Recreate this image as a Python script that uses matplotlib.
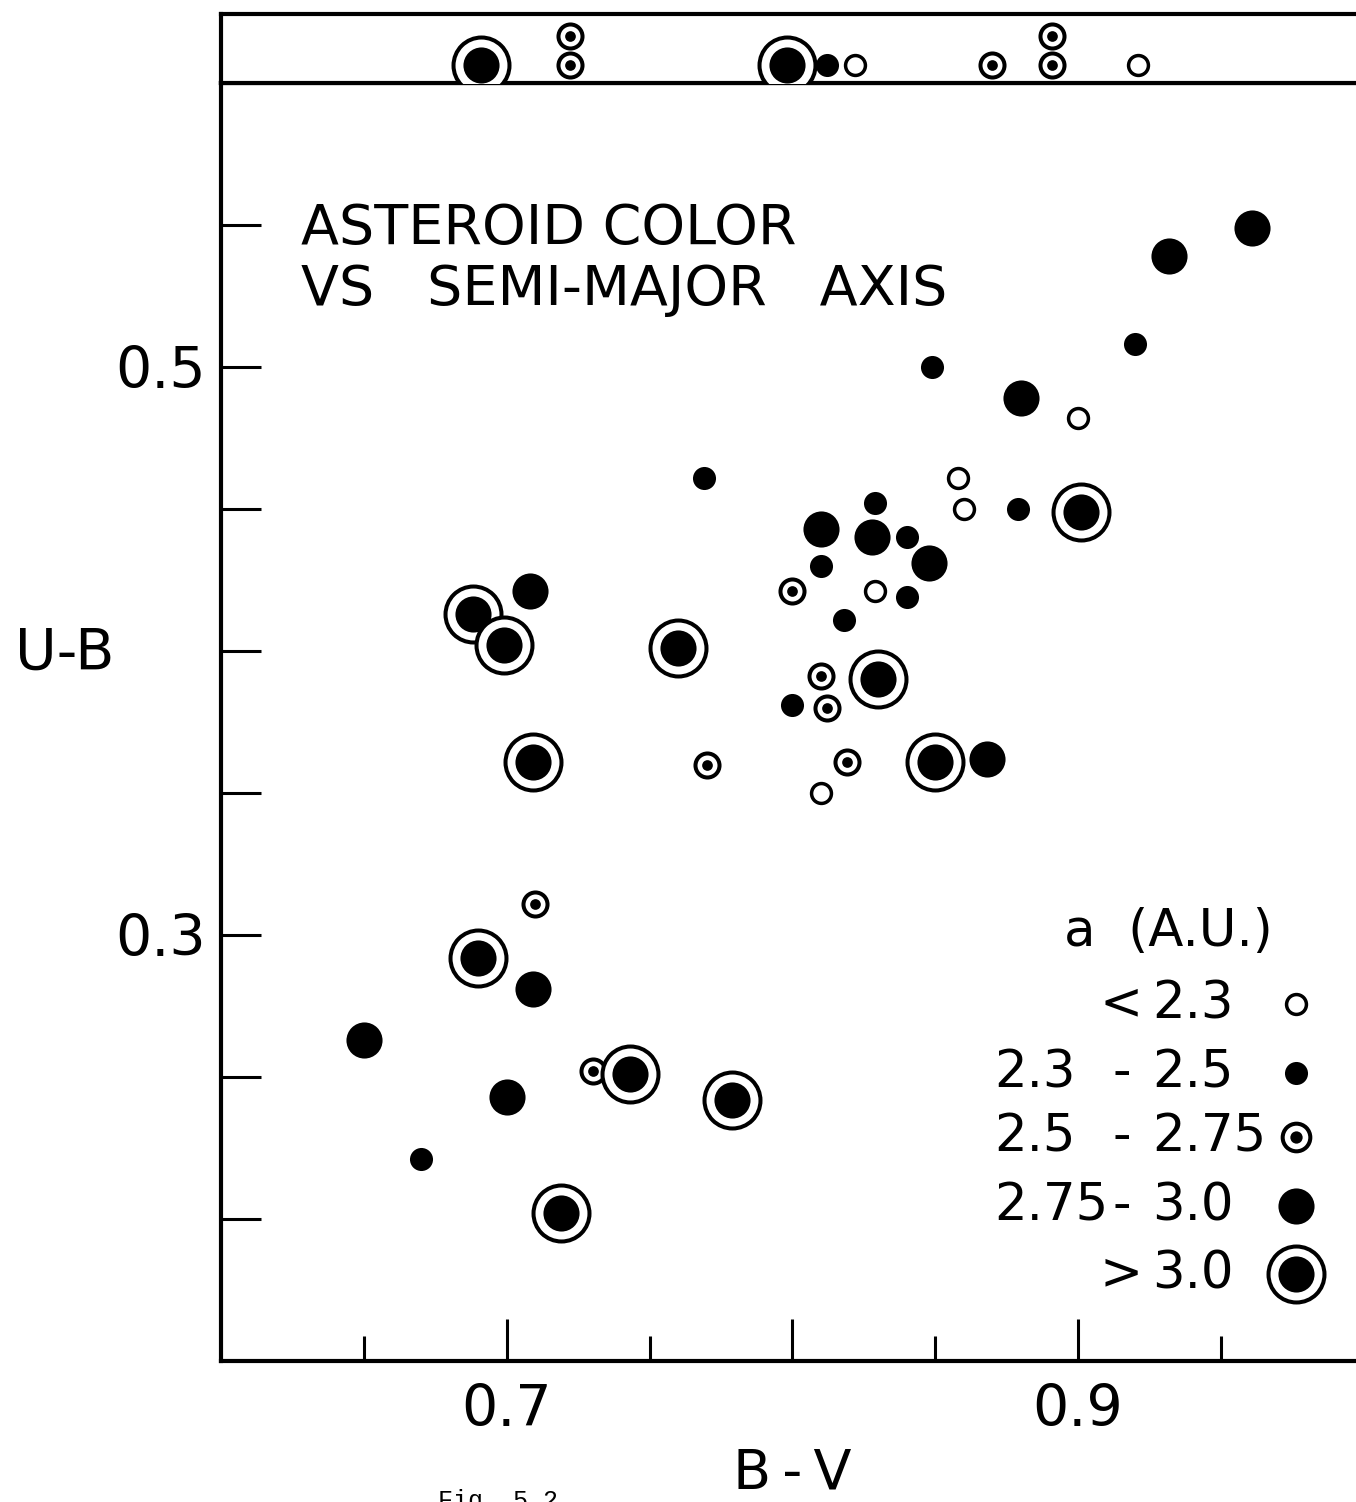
import numpy as np
import matplotlib.pyplot as plt

plt.rcParams['font.family'] = 'DejaVu Sans'

# B-V / U-B colours, grouped by semi-major axis a (A.U.)
bv_lt23 = [0.900, 0.858, 0.860, 0.829, 0.810]
ub_lt23 = [0.482, 0.461, 0.450, 0.421, 0.350]

bv_23_25 = [0.849, 0.920, 0.769, 0.829, 0.840, 0.879, 0.810, 0.840, 0.818, 0.800, 0.670]
ub_23_25 = [0.500, 0.508, 0.461, 0.452, 0.440, 0.450, 0.430, 0.419, 0.411, 0.381, 0.221]

bv_25_275 = [0.800, 0.810, 0.812, 0.819, 0.770, 0.710, 0.730]
ub_25_275 = [0.421, 0.391, 0.380, 0.361, 0.360, 0.311, 0.252]

bv_275_30 = [0.961, 0.932, 0.880, 0.810, 0.828, 0.848, 0.708, 0.868, 0.709, 0.650, 0.700]
ub_275_30 = [0.549, 0.539, 0.489, 0.443, 0.440, 0.431, 0.421, 0.362, 0.281, 0.263, 0.243]

bv_gt30 = [0.901, 0.688, 0.699, 0.760, 0.830, 0.709, 0.850, 0.690, 0.743, 0.779, 0.719]
ub_gt30 = [0.449, 0.413, 0.402, 0.401, 0.390, 0.361, 0.361, 0.292, 0.251, 0.242, 0.202]

# objects with U-B off the top of the scale (stack row 0 / 1)
top_bv_lt23 = [0.822, 0.921]
top_bv_23_25 = [0.812]
top_bv_25_275 = [0.722, 0.722, 0.870, 0.891, 0.891]
top_row_25_275 = [0, 1, 0, 0, 1]
top_bv_gt30 = [0.691, 0.798]

x_major = [0.70, 0.80, 0.90]
x_major_labels = ['0.7', '', '0.9']
x_minor = [0.65, 0.75, 0.85, 0.95]
y_ticks = [0.20, 0.25, 0.30, 0.35, 0.40, 0.45, 0.50, 0.55]
y_ticklabels = ['', '', '0.3', '', '', '', '0.5', '']

leg_lo = ['', '2.3', '2.5', '2.75', '']
leg_sep = ['<', '-', '-', '-', '>']
leg_hi = ['2.3', '2.5', '2.75', '3.0', '3.0']


def open_pts(ax, x, y, **kw):
    ax.plot(x, y, 'o', ms=14.3, mfc='white', mec='k', mew=2.5, ls='none', zorder=3, **kw)

def small_pts(ax, x, y, **kw):
    ax.plot(x, y, 'o', ms=16.6, mfc='k', mec='k', mew=0, ls='none', zorder=3, **kw)

def dot_pts(ax, x, y, big=False, **kw):
    s = 1.15 if big else 1.0
    ax.plot(x, y, 'o', ms=17.3 * s, mfc='white', mec='k', mew=2.9, ls='none', zorder=3, **kw)
    ax.plot(x, y, 'o', ms=7.7 * s, mfc='k', mec='k', mew=0, ls='none', zorder=3, **kw)

def big_pts(ax, x, y, **kw):
    ax.plot(x, y, 'o', ms=26, mfc='k', mec='k', mew=0, ls='none', zorder=4, **kw)

def ring_pts(ax, x, y, **kw):
    # ring + dot drawn point by point so later rings cover earlier ones
    for i, (xi, yi) in enumerate(zip(x, y)):
        ax.plot([xi], [yi], 'o', ms=40.3, mfc='white', mec='k', mew=2.9, zorder=5 + 2 * i, **kw)
        ax.plot([xi], [yi], 'o', ms=26, mfc='k', mec='k', mew=0, zorder=6 + 2 * i, **kw)


fig = plt.figure(figsize=(13.56, 15.02), dpi=100)
ax = fig.add_axes([0.1633, 0.0939, 0.8422, 0.8509])
top = fig.add_axes([0.1633, 0.9448, 0.8422, 0.0459], sharex=ax)

for a in (ax, top):
    for s in a.spines.values():
        s.set_linewidth(3)

open_pts(ax, bv_lt23, ub_lt23)
small_pts(ax, bv_23_25, ub_23_25)
dot_pts(ax, bv_25_275, ub_25_275)
big_pts(ax, bv_275_30, ub_275_30)
ring_pts(ax, bv_gt30, ub_gt30)

open_pts(top, top_bv_lt23, [0] * len(top_bv_lt23))
small_pts(top, top_bv_23_25, [0] * len(top_bv_23_25))
dot_pts(top, top_bv_25_275, top_row_25_275)
ring_pts(top, top_bv_gt30, [0] * len(top_bv_gt30))
top.set_ylim(-0.6, 1.73)
top.tick_params(which='both', left=False, bottom=False, labelleft=False, labelbottom=False)
top.spines['right'].set_visible(False)

ax.set_xlim(0.6, 1.0)
ax.set_ylim(0.15, 0.6)
ax.set_xticks(x_major)
ax.set_xticklabels(x_major_labels)
ax.set_xticks(x_minor, minor=True)
ax.set_yticks(y_ticks)
ax.set_yticklabels(y_ticklabels)
ax.tick_params(axis='y', direction='in', length=29, width=2.2, pad=11, labelsize=41)
ax.tick_params(axis='x', which='major', direction='in', length=30, width=2.2, pad=16, labelsize=41)
ax.tick_params(axis='x', which='minor', direction='in', length=18, width=2.2)

ax.set_xlabel('B\u2009-\u2009V', fontsize=40, va='center')
ax.xaxis.set_label_coords(0.5, -0.088)
ax.set_ylabel('U-B', fontsize=41, rotation=0, ha='center', va='center')
ax.yaxis.set_label_coords(-0.137, 0.553)

ax.text(0.070, 0.862, 'ASTEROID COLOR\nVS   SEMI-MAJOR   AXIS', transform=ax.transAxes,
        fontsize=40, ha='left', va='center', linespacing=1.18)

# key for the five symbol classes
ax.text(0.829, 0.336, 'a  (A.U.)', transform=ax.transAxes, fontsize=37,
        ha='center', va='center')
rows_y = [0.279, 0.225, 0.175, 0.121, 0.068]
for lo, sep, hi, yy in zip(leg_lo, leg_sep, leg_hi, rows_y):
    ax.text(0.677, yy, lo, transform=ax.transAxes, fontsize=37, ha='left', va='center')
    ax.text(0.788, yy, sep, transform=ax.transAxes, fontsize=37, ha='center', va='center')
    ax.text(0.815, yy, hi, transform=ax.transAxes, fontsize=37, ha='left', va='center')
kx = 0.941
kw = dict(transform=ax.transAxes, clip_on=False)
open_pts(ax, [kx], [rows_y[0]], **kw)
small_pts(ax, [kx], [rows_y[1]], **kw)
dot_pts(ax, [kx], [rows_y[2]], big=True, **kw)
big_pts(ax, [kx], [rows_y[3]], **kw)
ring_pts(ax, [kx], [rows_y[4]], **kw)

fig.text(438 / 1356, 1 - 1489 / 1502, 'Fig. 5.2', family='Liberation Mono',
         fontsize=18, ha='left', va='top')

fig.savefig('out.png', dpi=100)
